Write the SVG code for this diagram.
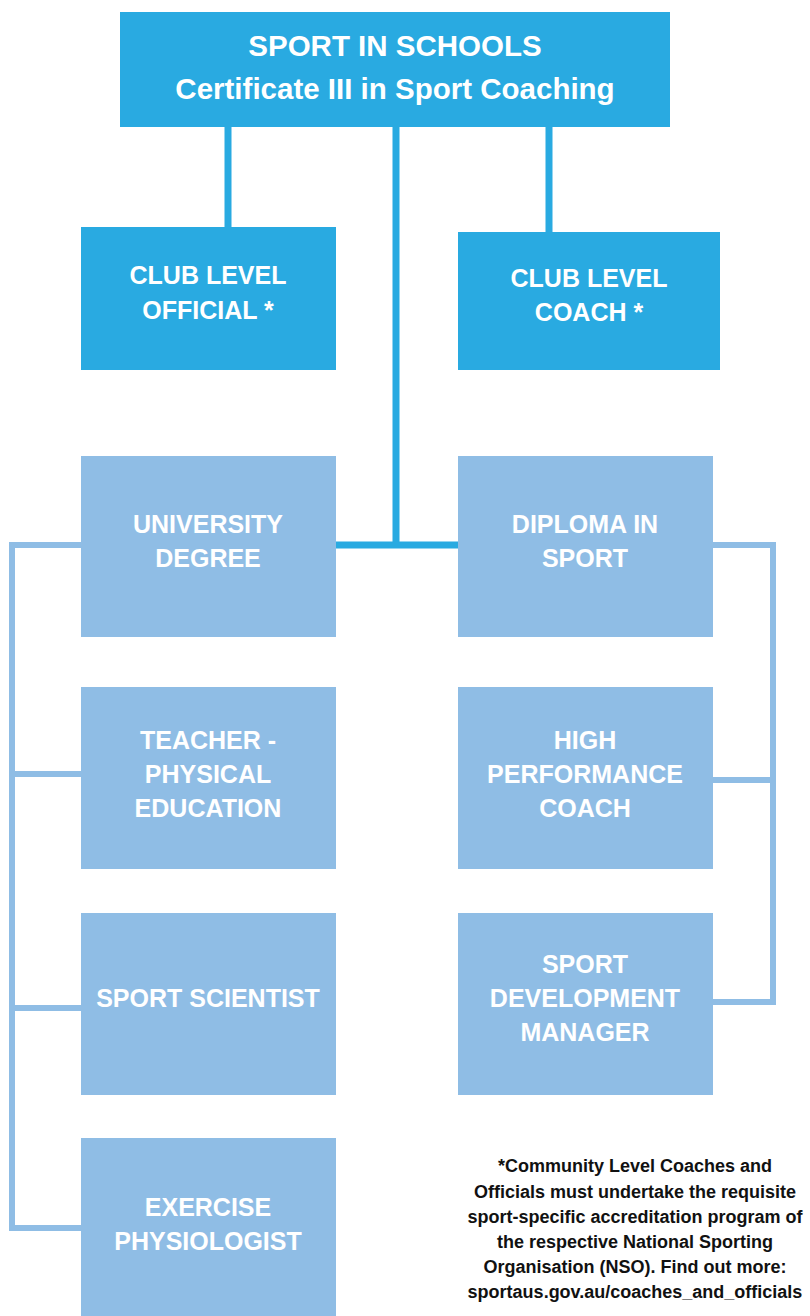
<svg xmlns="http://www.w3.org/2000/svg" width="810" height="1316" viewBox="0 0 810 1316">
<style>
.dk{fill:#29aae1}
.lt{fill:#8fbde5}
.t{fill:#fff;font-family:"Liberation Sans",Arial,sans-serif;font-weight:bold;font-size:25px;text-anchor:middle}
.tt{font-size:29.5px}
.c1{stroke:#29aae1;stroke-width:7;fill:none}
.c2{stroke:#8fbde5;stroke-width:6;fill:none}
.note{fill:#111;font-family:"Liberation Sans",Arial,sans-serif;font-weight:bold;font-size:18px;text-anchor:middle}
</style>
<rect width="810" height="1316" fill="#fff"/>
<g id="connectors">
<path class="c1" d="M228 127V228M549 127V233M396 127V545M336 545H458"/>
<path class="c2" d="M81 545H12V1228H81M12 774H81M12 1008H81"/>
<path class="c2" d="M713 545H773V1002H713M713 780H773"/>
</g>
<g id="top"><rect class="dk" x="120" y="12" width="550" height="115"/>
<text class="t tt" x="395" y="56">SPORT IN SCHOOLS</text>
<text class="t tt" x="395" y="99">Certificate III in Sport Coaching</text></g>
<g id="club-official"><rect class="dk" x="81" y="227" width="255" height="143"/>
<text class="t" x="208" y="284">CLUB LEVEL</text><text class="t" x="208" y="319">OFFICIAL *</text></g>
<g id="club-coach"><rect class="dk" x="458" y="232" width="262" height="138"/>
<text class="t" x="589" y="287">CLUB LEVEL</text><text class="t" x="589" y="321">COACH *</text></g>
<g id="university"><rect class="lt" x="81" y="456" width="255" height="181"/>
<text class="t" x="208" y="533">UNIVERSITY</text><text class="t" x="208" y="567">DEGREE</text></g>
<g id="diploma"><rect class="lt" x="458" y="456" width="255" height="181"/>
<text class="t" x="585" y="533">DIPLOMA IN</text><text class="t" x="585" y="567">SPORT</text></g>
<g id="teacher"><rect class="lt" x="81" y="687" width="255" height="182"/>
<text class="t" x="208" y="749">TEACHER -</text><text class="t" x="208" y="783">PHYSICAL</text><text class="t" x="208" y="817">EDUCATION</text></g>
<g id="high-performance"><rect class="lt" x="458" y="687" width="255" height="182"/>
<text class="t" x="585" y="749">HIGH</text><text class="t" x="585" y="783">PERFORMANCE</text><text class="t" x="585" y="817">COACH</text></g>
<g id="scientist"><rect class="lt" x="81" y="913" width="255" height="182"/>
<text class="t" x="208" y="1007">SPORT SCIENTIST</text></g>
<g id="development"><rect class="lt" x="458" y="913" width="255" height="182"/>
<text class="t" x="585" y="973">SPORT</text><text class="t" x="585" y="1007">DEVELOPMENT</text><text class="t" x="585" y="1041">MANAGER</text></g>
<g id="exercise"><rect class="lt" x="81" y="1138" width="255" height="178"/>
<text class="t" x="208" y="1216">EXERCISE</text><text class="t" x="208" y="1250">PHYSIOLOGIST</text></g>
<g id="note">
<text class="note" x="635" y="1172">*Community Level Coaches and</text>
<text class="note" x="635" y="1198">Officials must undertake the requisite</text>
<text class="note" x="635" y="1223">sport-specific accreditation program of</text>
<text class="note" x="635" y="1248">the respective National Sporting</text>
<text class="note" x="635" y="1273">Organisation (NSO). Find out more:</text>
<text class="note" x="635" y="1298">sportaus.gov.au/coaches_and_officials</text>
</g>
</svg>
